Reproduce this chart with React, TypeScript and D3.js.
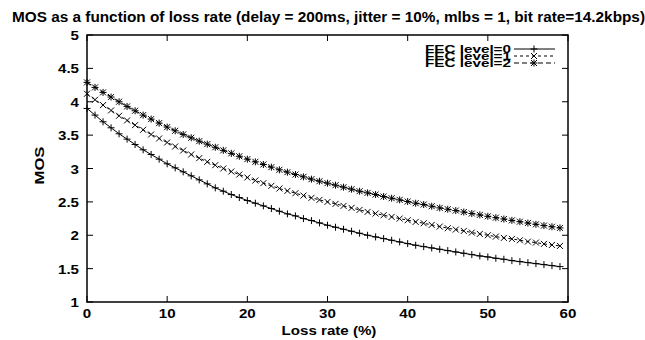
import React from "react";
import * as d3 from "d3";

const lossRates: number[] = d3.range(0, 60);

const fec0: number[] = [
  3.90, 3.80, 3.70, 3.61, 3.52, 3.44, 3.36, 3.28, 3.21, 3.14,
  3.07, 3.01, 2.95, 2.89, 2.83, 2.77, 2.71, 2.66, 2.61, 2.565,
  2.52, 2.48, 2.44, 2.40, 2.36, 2.32, 2.29, 2.25, 2.22, 2.185,
  2.15, 2.12, 2.09, 2.06, 2.03, 2.00, 1.975, 1.95, 1.925, 1.90,
  1.875, 1.85, 1.83, 1.81, 1.79, 1.77, 1.75, 1.73, 1.71, 1.69,
  1.675, 1.655, 1.64, 1.62, 1.605, 1.59, 1.575, 1.56, 1.545, 1.53,
];

const fec1: number[] = [
  4.12, 4.03, 3.95, 3.87, 3.79, 3.72, 3.65, 3.58, 3.51, 3.45,
  3.39, 3.33, 3.27, 3.21, 3.155, 3.10, 3.05, 3.00, 2.955, 2.91,
  2.865, 2.82, 2.78, 2.74, 2.70, 2.665, 2.63, 2.595, 2.56, 2.53,
  2.50, 2.47, 2.44, 2.41, 2.38, 2.35, 2.325, 2.30, 2.275, 2.25,
  2.225, 2.20, 2.18, 2.155, 2.13, 2.105, 2.085, 2.065, 2.04, 2.02,
  2.00, 1.98, 1.96, 1.945, 1.925, 1.905, 1.89, 1.87, 1.855, 1.84,
];

const fec2: number[] = [
  4.29, 4.215, 4.14, 4.07, 4.00, 3.93, 3.865, 3.80, 3.74, 3.68,
  3.62, 3.565, 3.51, 3.46, 3.41, 3.365, 3.318, 3.272, 3.227, 3.183,
  3.14, 3.10, 3.06, 3.02, 2.98, 2.945, 2.91, 2.875, 2.84, 2.81,
  2.78, 2.75, 2.72, 2.69, 2.66, 2.635, 2.61, 2.58, 2.555, 2.53,
  2.505, 2.48, 2.46, 2.435, 2.41, 2.39, 2.37, 2.348, 2.326, 2.305,
  2.284, 2.263, 2.243, 2.223, 2.203, 2.183, 2.164, 2.145, 2.127, 2.11,
];

const seriesNames: string[] = ["FEC level=0", "FEC level=1", "FEC level=2"];
const xTicks: number[] = [0, 10, 20, 30, 40, 50, 60];
const yTicks: number[] = [1, 1.5, 2, 2.5, 3, 3.5, 4, 4.5, 5];
const titleText = "MOS as a function of loss rate (delay = 200ms, jitter = 10%, mlbs = 1, bit rate=14.2kbps)";

const W = 645;
const H = 340;
const left = 87;
const right = 568;
const top = 35;
const bottom = 302;
const FONT = "'Liberation Sans', Arial, sans-serif";
const SX = 1.26;

const dashes = ["none", "3,3", "5,3"];

function T({
  x,
  y,
  anchor = "start",
  size = 12,
  sx = SX,
  children,
}: {
  x: number;
  y: number;
  anchor?: "start" | "middle" | "end";
  size?: number;
  sx?: number;
  children: React.ReactNode;
}) {
  return (
    <text
      transform={`translate(${x},${y}) scale(${sx},1)`}
      textAnchor={anchor}
      fontFamily={FONT}
      fontWeight="bold"
      fontSize={size}
      fill="#000"
    >
      {children}
    </text>
  );
}

function Marker({ kind, x, y }: { kind: number; x: number; y: number }) {
  const s = 3.5;
  const plus = `M${x - s},${y}H${x + s}M${x},${y - s}V${y + s}`;
  const c = 3;
  const cross = `M${x - c},${y - c}L${x + c},${y + c}M${x - c},${y + c}L${x + c},${y - c}`;
  const d = kind === 0 ? plus : kind === 1 ? cross : plus + cross;
  return <path d={d} stroke="#000" strokeWidth={1} fill="none" />;
}

export default function App() {
  const x = d3.scaleLinear().domain([0, 60]).range([left, right]);
  const y = d3.scaleLinear().domain([1, 5]).range([bottom, top]);
  const all = [fec0, fec1, fec2];
  const line = d3
    .line<number>()
    .x((_, i) => x(lossRates[i]))
    .y((d) => y(d))
    .curve(d3.curveLinear);
  const tl = 6;
  const legendY = [49, 56, 63];

  return (
    <svg width={W} height={H} style={{ position: "absolute", left: 0, top: 0, background: "#fff" }}>
      <rect x={0} y={0} width={W} height={H} fill="#fff" />
      <text
        x={12}
        y={22}
        textLength={633}
        lengthAdjust="spacingAndGlyphs"
        fontFamily={FONT}
        fontWeight="bold"
        fontSize={14}
      >
        {titleText}
      </text>
      {/* ticks */}
      {xTicks.map((t) => (
        <g key={"x" + t}>
          <line x1={x(t)} x2={x(t)} y1={bottom} y2={bottom - tl} stroke="#000" />
          <line x1={x(t)} x2={x(t)} y1={top} y2={top + tl} stroke="#000" />
          <T x={x(t)} y={318} anchor="middle">
            {t}
          </T>
        </g>
      ))}
      {yTicks.map((t) => (
        <g key={"y" + t}>
          <line x1={left} x2={left + tl} y1={y(t)} y2={y(t)} stroke="#000" />
          <line x1={right} x2={right - tl} y1={y(t)} y2={y(t)} stroke="#000" />
          <T x={79} y={y(t) + 5} anchor="end">
            {t}
          </T>
        </g>
      ))}
      <text
        transform={`translate(44,${(top + bottom) / 2 - 3}) rotate(-90)`}
        textAnchor="middle"
        fontFamily={FONT}
        fontWeight="bold"
        fontSize={12}
        textLength={38}
        lengthAdjust="spacingAndGlyphs"
      >
        MOS
      </text>
      <T x={329} y={335} anchor="middle">
        Loss rate (%)
      </T>
      {/* series */}
      {all.map((s, k) => (
        <g key={"s" + k}>
          <path d={line(s) || ""} fill="none" stroke="#000" strokeWidth={1} strokeDasharray={dashes[k]} />
          {s.map((v, i) => (
            <Marker key={i} kind={k} x={x(lossRates[i])} y={y(v)} />
          ))}
        </g>
      ))}
      {/* legend */}
      {seriesNames.map((n, k) => (
        <g key={"l" + k}>
          <text
            x={511 - 86}
            y={legendY[k] + 4}
            textLength={86}
            lengthAdjust="spacingAndGlyphs"
            fontFamily={FONT}
            fontWeight="bold"
            fontSize={10.5}
          >
            {n}
          </text>
          <line x1={514} x2={555} y1={legendY[k]} y2={legendY[k]} stroke="#000" strokeDasharray={dashes[k]} />
          <Marker kind={k} x={534} y={legendY[k]} />
        </g>
      ))}
      <rect x={left} y={top} width={right - left} height={bottom - top} fill="none" stroke="#000" strokeWidth={1.5} />
    </svg>
  );
}
